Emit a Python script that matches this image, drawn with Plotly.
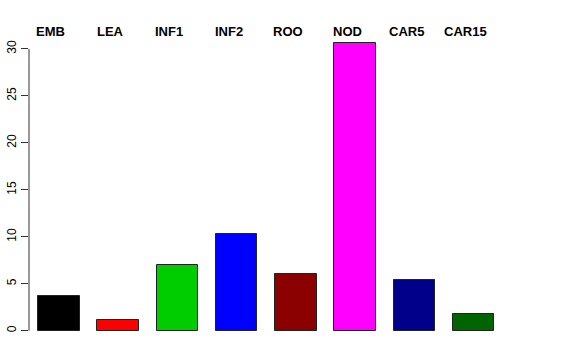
import plotly.graph_objects as go

categories = ["EMB", "LEA", "INF1", "INF2", "ROO", "NOD", "CAR5", "CAR15"]
values = [3.7, 1.15, 7.0, 10.35, 6.05, 30.65, 5.45, 1.8]
colors = ["#000000", "#FF0000", "#00CD00", "#0000FF", "#8B0000", "#FF00FF", "#00008B", "#006400"]
ytick_vals = [0, 5, 10, 15, 20, 25, 30]
ytick_text = ["0", "5", "10", "15", "20", "25", "30"]

xpos = list(range(len(categories)))

fig = go.Figure()
fig.add_trace(go.Bar(
    x=xpos, y=values, width=0.7,
    marker=dict(color=colors, line=dict(color="#222222", width=1)),
    hoverinfo="skip",
))

for i, c in enumerate(categories):
    fig.add_annotation(
        x=xpos[i], y=1.0, xref="x", yref="paper", text="<b>%s</b>" % c,
        showarrow=False, xanchor="center", yanchor="middle", xshift=-8, yshift=1,
        font=dict(family="Liberation Sans, Arial, sans-serif", size=13, color="black"),
    )

fig.add_shape(type="line", xref="paper", yref="y", x0=0, x1=0,
              y0=min(ytick_vals), y1=max(ytick_vals),
              line=dict(color="#333333", width=1))

fig.update_layout(
    width=576, height=360,
    margin=dict(l=29, r=31, t=32, b=18, autoexpand=False),
    plot_bgcolor="white", paper_bgcolor="white",
    showlegend=False,
    xaxis=dict(range=[-0.506, 8.203], showticklabels=False, showgrid=False,
               zeroline=False, showline=False, ticks="", automargin=False),
    yaxis=dict(range=[-1.2, 31.8], tickvals=ytick_vals, ticktext=ytick_text,
               tickangle=-90, ticks="outside", ticklen=7, tickcolor="#333333",
               showgrid=False, zeroline=False, showline=False, automargin=False,
               tickfont=dict(family="Liberation Sans, Arial, sans-serif", size=12, color="black")),
    bargap=0,
)

fig.write_html("out.html")
